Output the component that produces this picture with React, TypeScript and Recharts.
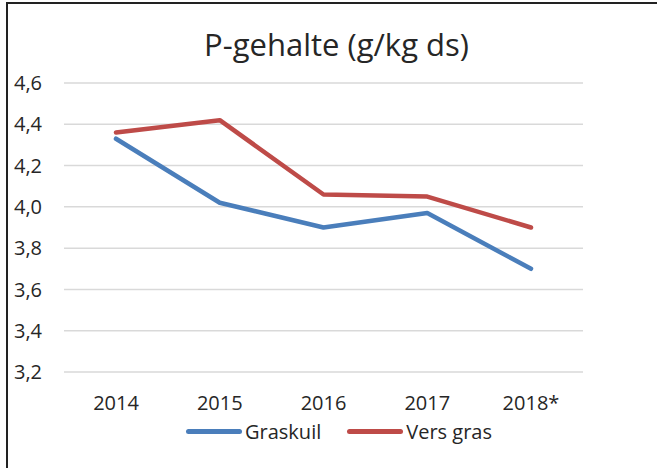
import React from 'react';
import { LineChart, Line, XAxis, YAxis, CartesianGrid, Legend } from 'recharts';

// Values
const years = ['2014', '2015', '2016', '2017', '2018*'];
const graskuil = [4.33, 4.02, 3.9, 3.97, 3.7];
const versGras = [4.36, 4.42, 4.06, 4.05, 3.9];
const yTicks = [3.2, 3.4, 3.6, 3.8, 4.0, 4.2, 4.4, 4.6];

const data = years.map((year, i) => ({
  year,
  Graskuil: graskuil[i],
  'Vers gras': versGras[i],
}));

const FONT = '"Open Sans", "Liberation Sans", sans-serif';
const TEXT = '#262626';

const renderLegend = (props: any) => {
  const { payload = [] } = props;
  return (
    <div style={{ display: 'flex', alignItems: 'center', fontFamily: FONT, fontSize: 20, color: TEXT }}>
      {payload.map((entry: any, i: number) => (
        <div key={entry.value} style={{ display: 'flex', alignItems: 'center', marginLeft: i === 0 ? 0 : 26 }}>
          <span
            style={{
              display: 'inline-block',
              width: 56,
              height: 5,
              borderRadius: 3,
              background: entry.color,
              marginRight: 3,
            }}
          />
          <span>{entry.value}</span>
        </div>
      ))}
    </div>
  );
};

export default function App() {
  return (
    <div style={{ position: 'fixed', left: 0, top: 0, width: 657, height: 468, overflow: 'hidden', background: '#fff' }}>
      <div
        style={{
          position: 'absolute',
          left: 6,
          top: 2,
          width: 700,
          height: 500,
          borderLeft: '2px solid #222',
          borderTop: '2px solid #222',
        }}
      />
      <div
        style={{
          position: 'absolute',
          left: 8,
          top: 23,
          width: 657,
          textAlign: 'center',
          fontFamily: FONT,
          fontSize: 31,
          color: TEXT,
        }}
      >
        P-gehalte (g/kg ds)
      </div>
      <div style={{ position: 'absolute', left: 0, top: 0 }}>
        <LineChart width={657} height={468} data={data} margin={{ top: 83, right: 74, bottom: 56, left: 0 }}>
          <CartesianGrid vertical={false} stroke="#d9d9d9" strokeWidth={1.5} />
          <XAxis
            dataKey="year"
            axisLine={false}
            tickLine={false}
            tickSize={0}
            tickMargin={24}
            height={40}
            padding={{ left: 52, right: 52 }}
            tick={{ fill: TEXT, fontSize: 20, fontFamily: FONT }}
          />
          <YAxis
            domain={[3.2, 4.6]}
            ticks={yTicks}
            interval={0}
            width={64}
            axisLine={false}
            tickLine={false}
            tickSize={0}
            tickMargin={22}
            tickFormatter={(v: number) => v.toFixed(1).replace('.', ',')}
            tick={{ fill: TEXT, fontSize: 20, fontFamily: FONT }}
          />
          <Legend
            layout="horizontal"
            verticalAlign="middle"
            align="center"
            wrapperStyle={{ left: 186, top: 418, width: 340 }}
            content={renderLegend}
          />
          <Line
            type="linear"
            dataKey="Graskuil"
            stroke="#4a7ebb"
            strokeWidth={4.5}
            strokeLinecap="round"
            strokeLinejoin="round"
            dot={false}
            isAnimationActive={false}
          />
          <Line
            type="linear"
            dataKey="Vers gras"
            stroke="#be4b48"
            strokeWidth={4.5}
            strokeLinecap="round"
            strokeLinejoin="round"
            dot={false}
            isAnimationActive={false}
          />
        </LineChart>
      </div>
    </div>
  );
}
